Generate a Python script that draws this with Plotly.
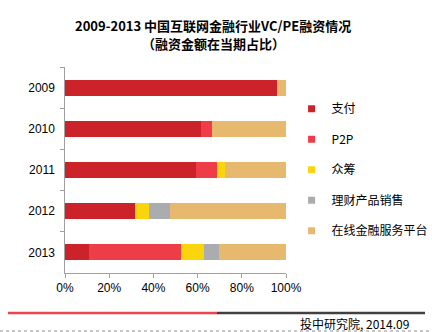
import plotly.graph_objects as go

years = ["2009", "2010", "2011", "2012", "2013"]
series_names = ["支付", "P2P", "众筹", "理财产品销售", "在线金融服务平台"]
zhifu = [96.0, 61.5, 59.3, 31.8, 10.9]
p2p = [0.0, 5.0, 9.3, 0.0, 41.6]
zhongchou = [0.0, 0.0, 3.6, 6.1, 10.3]
licai = [0.0, 0.0, 0.0, 9.8, 7.0]
zaixian = [4.0, 33.5, 27.8, 52.3, 30.2]
x_ticks = [0, 20, 40, 60, 80, 100]
x_tick_labels = ["0%", "20%", "40%", "60%", "80%", "100%"]
title_line1 = "2009-2013 中国互联网金融行业VC/PE融资情况"
title_line2 = "（融资金额在当期占比）"
source_text = "投中研究院, 2014.09"

colors = ["#CC2229", "#EE3C48", "#F8D50C", "#ABACB0", "#E7B96F"]
values = [zhifu, p2p, zhongchou, licai, zaixian]

FONT = "Liberation Sans, Arial, Noto Sans CJK SC, sans-serif"
CJK = "Noto Sans CJK SC, sans-serif"

fig = go.Figure()
for name, vals, c in zip(series_names, values, colors):
    fig.add_trace(go.Bar(
        y=years, x=vals, name=name, orientation="h",
        marker=dict(color=c, line=dict(width=0)),
        showlegend=False, hoverinfo="x+name",
    ))
# legend entries
for i, (name, c) in enumerate(zip(series_names, colors)):
    fig.add_trace(go.Scatter(
        x=[None], y=[None], mode="markers", name=name,
        marker=dict(symbol="square", size=7, color=c),
        legendgroup=f"g{i}", showlegend=True,
    ))

fig.update_layout(
    width=432, height=332,
    margin=dict(l=65, r=146, t=67, b=59, autoexpand=False),
    paper_bgcolor="white", plot_bgcolor="white",
    barmode="stack", bargap=0.61,
    font=dict(family=FONT, size=12, color="#000"),
    legend=dict(
        xref="container", yref="container",
        x=0.675, y=0.716, xanchor="left", yanchor="top",
        tracegroupgap=11.5, traceorder="grouped",
        font=dict(size=12, family="Noto Sans CJK SC, Liberation Sans, sans-serif"),
        itemclick=False, itemdoubleclick=False,
        bgcolor="rgba(0,0,0,0)",
    ),
    showlegend=True,
)
fig.update_xaxes(
    range=[0, 100], tickvals=x_ticks, ticktext=x_tick_labels,
    showgrid=False, zeroline=False, showline=True, linecolor="#A0A0A0",
    linewidth=1, ticks="outside", ticklen=4, tickcolor="#A0A0A0",
    tickfont=dict(size=12, family=FONT), fixedrange=True,
)
fig.update_yaxes(
    type="category", categoryorder="array", categoryarray=years,
    autorange="reversed",
    showgrid=False, zeroline=False, showline=True, linecolor="#A0A0A0",
    linewidth=1, ticks="outside", ticklen=4, tickcolor="#A0A0A0",
    tickson="boundaries", tickfont=dict(size=12, family=FONT),
    ticksuffix="  ", fixedrange=True,
)

x0p = lambda px: (px - 65) / 221.0
y0p = lambda py: (273 - py) / 206.0

# title lines
fig.add_annotation(
    text="<b>" + title_line1 + "</b>", xref="paper", yref="paper",
    x=x0p(213), y=y0p(25), xanchor="center", yanchor="middle",
    showarrow=False, font=dict(size=13, family=CJK, color="#000"),
)
fig.add_annotation(
    text="<b>" + title_line2 + "</b>", xref="paper", yref="paper",
    x=x0p(213), y=y0p(43), xanchor="center", yanchor="middle",
    showarrow=False, font=dict(size=13, family=CJK, color="#000"),
)

# bottom decorative lines and source
fig.add_shape(type="line", xref="paper", yref="paper",
              x0=x0p(8), x1=x0p(217), y0=y0p(313), y1=y0p(313),
              line=dict(color="#F0434B", width=2.5))
fig.add_shape(type="line", xref="paper", yref="paper",
              x0=x0p(217), x1=x0p(425), y0=y0p(313), y1=y0p(313),
              line=dict(color="#404040", width=2.5))
fig.add_shape(type="line", xref="paper", yref="paper",
              x0=x0p(0), x1=x0p(432), y0=y0p(331), y1=y0p(331),
              line=dict(color="#909090", width=1, dash="dot"))
fig.add_annotation(
    text=source_text, xref="paper", yref="paper",
    x=x0p(411), y=y0p(323), xanchor="right", yanchor="middle",
    showarrow=False, font=dict(size=12, family=CJK, color="#000"),
)

fig.write_html("out.html", config={"displayModeBar": False})
